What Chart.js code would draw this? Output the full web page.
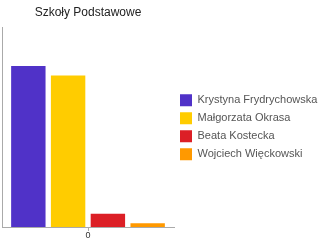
<!DOCTYPE html>
<html>
<head>
<meta charset="utf-8">
<script src="https://cdn.jsdelivr.net/npm/chart.js@4"></script>
<style>
html,body{margin:0;padding:0;background:#fff;}
#wrap{width:320px;height:240px;}
</style>
</head>
<body>
<div id="wrap"><canvas id="c" width="320" height="240"></canvas></div>
<script>
const categories = ['0'];
const seriesNames = ['Krystyna Frydrychowska', 'Małgorzata Okrasa', 'Beata Kostecka', 'Wojciech Więckowski'];
const seriesValues = [[80.6], [75.9], [6.7], [1.9]];
const seriesColors = ['#5032c8', '#ffcc00', '#dc1f26', '#ff9900'];
const titleText = 'Szkoły Podstawowe';

const datasets = seriesNames.map((n, i) => ({
  label: n,
  data: seriesValues[i],
  backgroundColor: seriesColors[i],
  borderWidth: 0,
  categoryPercentage: 0.925,
  barPercentage: 0.865
}));

new Chart(document.getElementById('c'), {
  type: 'bar',
  data: { labels: categories, datasets },
  options: {
    responsive: false,
    animation: false,
    layout: { padding: { left: 2, right: 0, top: 0, bottom: 0 } },
    plugins: {
      title: {
        display: true,
        text: titleText,
        fullSize: false,
        color: '#222',
        font: { family: 'Liberation Sans, Arial, sans-serif', size: 12, weight: 'normal' },
        padding: { top: 5, bottom: 8 }
      },
      legend: {
        position: 'right',
        fullSize: false,
        maxWidth: 146,
        labels: {
          boxWidth: 12,
          boxHeight: 12,
          padding: 6,
          color: '#555',
          font: { family: 'Liberation Sans, Arial, sans-serif', size: 11 }
        }
      },
      tooltip: { enabled: false }
    },
    scales: {
      x: {
        grid: { display: true, drawOnChartArea: false, drawTicks: true, tickLength: 4, color: '#aaa', offset: false },
        border: { display: true, color: '#aaa', width: 1 },
        ticks: { color: '#333', padding: 0, font: { family: 'Liberation Sans, Arial, sans-serif', size: 9, lineHeight: 1 } }
      },
      y: {
        min: 0,
        max: 100,
        grid: { display: false, drawTicks: false, tickLength: 0 },
        border: { display: true, color: '#aaa', width: 1 },
        ticks: { display: false }
      }
    }
  }
});
</script>
</body>
</html>
